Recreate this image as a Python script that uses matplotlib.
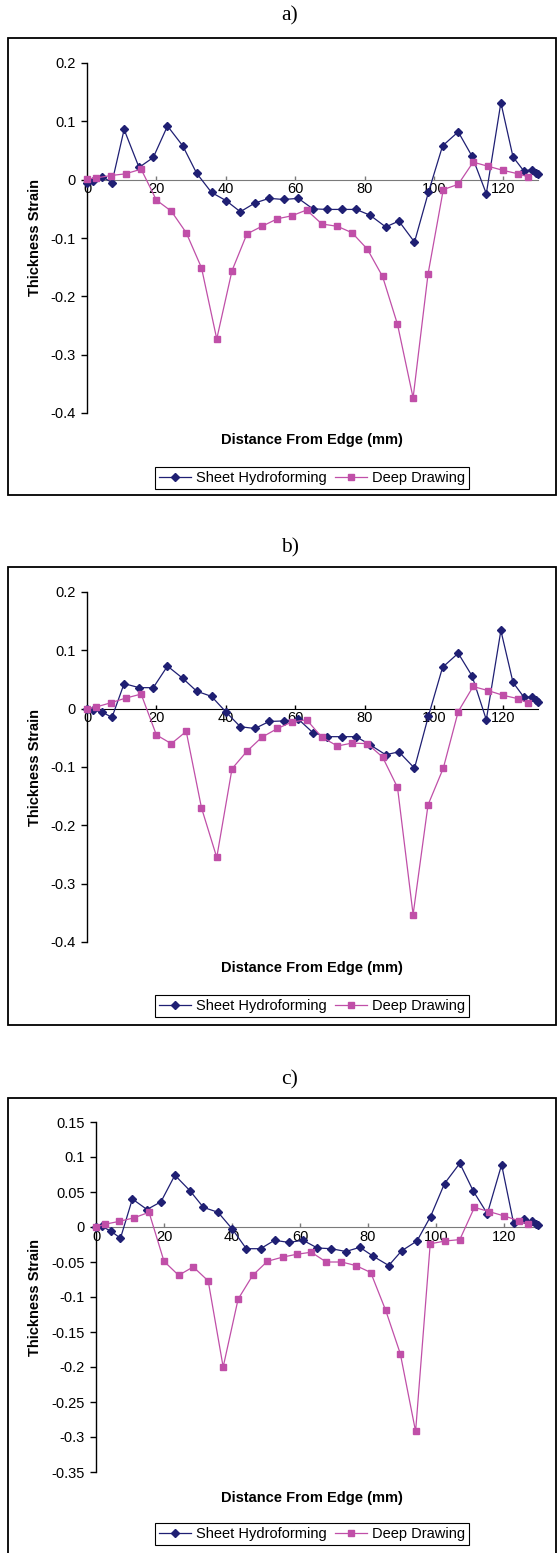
import numpy as np
import matplotlib
matplotlib.use('Agg')
import matplotlib.pyplot as plt
from matplotlib.patches import Rectangle
from matplotlib.lines import Line2D
from matplotlib.ticker import FuncFormatter

plt.rcParams['font.family'] = ['Liberation Sans', 'DejaVu Sans']
plt.rcParams['axes.unicode_minus'] = False

# distance from edge (mm)
x_sheet = [0, 1.7, 4.4, 7.2, 10.7, 15, 19.1, 23.2, 27.6, 31.6, 35.9, 40.1, 44.2, 48.4, 52.5, 56.7,
           60.9, 65.1, 69.2, 73.5, 77.6, 81.6, 86.1, 89.9, 94.4, 98.4, 102.5, 107, 111, 115.1,
           119.3, 122.8, 125.9, 128.2, 129.5, 130]
x_deep = [0, 2.7, 6.8, 11.1, 15.6, 20, 24.3, 28.6, 33, 37.4, 41.8, 46.1, 50.4, 54.9, 59, 63.3,
          67.7, 72.2, 76.4, 80.8, 85.2, 89.5, 94, 98.3, 102.7, 107, 111.3, 115.6, 119.9, 124.3, 127]

# thickness strain, panel a
a_sheet = [-0.005, -0.003, 0.005, -0.005, 0.086, 0.021, 0.038, 0.092, 0.058, 0.011, -0.022, -0.036,
           -0.055, -0.040, -0.032, -0.034, -0.032, -0.050, -0.051, -0.051, -0.051, -0.061, -0.081,
           -0.071, -0.107, -0.022, 0.058, 0.082, 0.040, -0.024, 0.132, 0.039, 0.015, 0.017, 0.011, 0.009]
a_deep = [0.001, 0.003, 0.007, 0.010, 0.018, -0.035, -0.054, -0.091, -0.151, -0.273, -0.156, -0.093,
          -0.080, -0.067, -0.062, -0.052, -0.076, -0.080, -0.091, -0.119, -0.166, -0.248, -0.374,
          -0.162, -0.017, -0.008, 0.030, 0.023, 0.016, 0.010, 0.005]

# panel b
b_sheet = [0, -0.002, -0.006, -0.015, 0.043, 0.036, 0.036, 0.073, 0.052, 0.030, 0.021, -0.006,
           -0.031, -0.034, -0.022, -0.021, -0.018, -0.041, -0.048, -0.048, -0.048, -0.062, -0.079,
           -0.074, -0.102, -0.013, 0.071, 0.095, 0.056, -0.019, 0.134, 0.045, 0.020, 0.020, 0.014, 0.011]
b_deep = [-0.001, 0.003, 0.010, 0.018, 0.025, -0.045, -0.060, -0.039, -0.170, -0.255, -0.103, -0.073,
          -0.049, -0.034, -0.023, -0.019, -0.049, -0.064, -0.059, -0.060, -0.083, -0.135, -0.353,
          -0.165, -0.102, -0.005, 0.038, 0.031, 0.023, 0.017, 0.010]

# panel c
c_sheet = [0, 0.001, -0.006, -0.016, 0.040, 0.025, 0.036, 0.074, 0.052, 0.028, 0.021, -0.003,
           -0.031, -0.031, -0.019, -0.022, -0.019, -0.030, -0.031, -0.035, -0.029, -0.042, -0.055,
           -0.034, -0.020, 0.015, 0.062, 0.091, 0.051, 0.019, 0.089, 0.006, 0.011, 0.008, 0.005, 0.003]
c_deep = [0, 0.004, 0.008, 0.013, 0.021, -0.049, -0.069, -0.057, -0.077, -0.200, -0.103, -0.069,
          -0.049, -0.043, -0.039, -0.036, -0.050, -0.050, -0.055, -0.065, -0.119, -0.181, -0.292,
          -0.024, -0.020, -0.018, 0.028, 0.022, 0.016, 0.009, 0.004]

x_ticks = [0, 20, 40, 60, 80, 100, 120]
a_yticks = [-0.4, -0.3, -0.2, -0.1, 0, 0.1, 0.2]
c_yticks = [-0.35, -0.3, -0.25, -0.2, -0.15, -0.1, -0.05, 0, 0.05, 0.1, 0.15]

labels = ['Sheet Hydroforming', 'Deep Drawing']
blue = '#1f1f73'
pink = '#c04fa8'

W, H = 558, 1553
fig = plt.figure(figsize=(W / 100, H / 100), dpi=100)


def fx(x):
    return x / W


def fy(y):
    return 1 - y / H


def panel(title, sheet, deep, yticks, box, plot, zero_col, tl_y, xl_y, lg_y):
    # outer frame
    fig.patches.append(Rectangle((fx(box[0]), fy(box[3])), fx(box[2] - box[0]), (box[3] - box[1]) / H,
                                 transform=fig.transFigure, fill=False, edgecolor='black', lw=1.3))
    fig.text(fx(290), fy(tl_y), title, family='Liberation Serif', fontsize=15.5, ha='center', va='center')

    l, r, t, b = plot
    ax = fig.add_axes([fx(l), fy(b), fx(r - l), (b - t) / H])
    ax.plot(x_sheet, sheet, color=blue, lw=0.9, marker='D', ms=4.3, clip_on=False, zorder=3)
    ax.plot(x_deep, deep, color=pink, lw=0.9, marker='s', ms=4.3, clip_on=False, zorder=4)
    ax.set_xlim(0, 130)
    ax.set_ylim(min(yticks), max(yticks))
    ax.set_yticks(yticks)
    ax.set_xticks(x_ticks)
    ax.yaxis.set_major_formatter(FuncFormatter(lambda v, p: '%g' % round(v, 3)))
    ax.spines['top'].set_visible(False)
    ax.spines['right'].set_visible(False)
    ax.spines['bottom'].set_position(('data', 0))
    ax.spines['bottom'].set_color(zero_col)
    ax.spines['left'].set_linewidth(1.0)
    ax.tick_params(axis='y', direction='out', length=4, width=1, labelsize=10.5, pad=4)
    ax.tick_params(axis='x', direction='in', length=3, width=1, color=zero_col, labelsize=10.5, pad=2)
    ax.patch.set_alpha(0)

    fig.text(fx(35), fy((t + b) / 2), 'Thickness Strain', rotation=90, fontsize=10.5,
             fontweight='bold', ha='center', va='center')
    fig.text(fx(312), fy(xl_y), 'Distance From Edge (mm)', fontsize=10.5, fontweight='bold',
             ha='center', va='center')

    handles = [Line2D([], [], color=blue, lw=0.9, marker='D', ms=4.3),
               Line2D([], [], color=pink, lw=0.9, marker='s', ms=4.3)]
    leg = fig.legend(handles, labels, loc='center', bbox_to_anchor=(fx(312), fy(lg_y)), ncol=2,
                     fontsize=10.5, frameon=True, fancybox=False, edgecolor='black', framealpha=1,
                     handlelength=2.2, handletextpad=0.3, columnspacing=0.6, borderpad=0.3,
                     borderaxespad=0)
    leg.get_frame().set_linewidth(0.8)
    return ax


panel('a)', a_sheet, a_deep, a_yticks, (8, 38, 556, 495), (87, 538, 63, 413), '#7a7a7a', 16, 440, 478)
panel('b)', b_sheet, b_deep, a_yticks, (8, 567, 556, 1025), (87, 538, 592, 942), 'black', 548, 968, 1006)
panel('c)', c_sheet, c_deep, c_yticks, (8, 1098, 556, 1562), (96, 538, 1122, 1472), '#7a7a7a', 1080, 1498, 1534)

fig.savefig('out.png', dpi=100)
